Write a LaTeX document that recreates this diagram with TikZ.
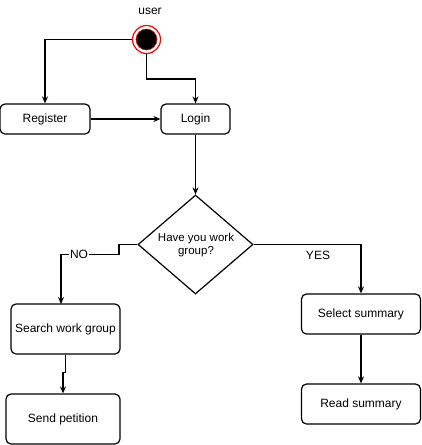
\documentclass[tikz,border=0pt]{standalone}
\usepackage{fontspec}
\setmainfont{Liberation Sans}
\usetikzlibrary{arrows.meta,shapes.geometric}
\begin{document}
\begin{tikzpicture}[x=1pt,y=-1pt,
  box/.style={draw,line width=1.2pt,rounded corners=5pt,inner sep=0pt,font=\fontsize{12}{13.5}\selectfont},
  conn/.style={draw,line width=1.2pt,-{Stealth[length=7pt,width=6pt]}},
  lbl/.style={font=\fontsize{12}{13.5}\selectfont,inner sep=1pt}]
\useasboundingbox (0,0) rectangle (421,445);
% start state
\node[circle,draw=red,fill=white,line width=1.2pt,minimum size=28pt,inner sep=0pt] (start) at (146.5,39.5) {};
\node[circle,draw=red,fill=black,line width=0.6pt,minimum size=21pt,inner sep=0pt] at (146.5,39.5) {};
\node[lbl] (user) at (150,11) {user};
% boxes
\node[box,minimum width=90pt,minimum height=30pt] (reg) at (45,119) {Register};
\node[box,minimum width=69pt,minimum height=30pt] (login) at (195.5,119) {Login};
\node[diamond,draw,line width=1.2pt,minimum width=115pt,minimum height=99pt,inner sep=0pt,aspect=1.16] (dec) at (195.5,244.5) {};
\node[lbl,align=center,font=\fontsize{11.5}{13}\selectfont] (dectext) at (196,245) {Have you work\\group?};
\node[box,minimum width=109pt,minimum height=50pt] (search) at (65.5,329) {Search work group};
\node[box,minimum width=114pt,minimum height=50pt] (send) at (63,419) {Send petition};
\node[box,minimum width=119pt,minimum height=40pt] (select) at (361,314) {Select summary};
\node[box,minimum width=119pt,minimum height=40pt] (read) at (361,404) {Read summary};
% connectors
\draw[conn] (start.west) -| (reg.north);
\draw[conn] (start.south) |- (195.5,79) -- (login.north);
\draw[conn] (reg.east) -- (login.west);
\draw[conn] (login.south) -- (dec.north);
\coordinate (nojog) at (119,254.5);
\draw[conn] (dec.west) -- (119,244.5) -- (nojog) -| (61,304) coordinate (noend);
\node[lbl,fill=white,inner sep=1pt] (no) at (79,254.5) {NO};
\draw[conn] (dec.east) -| (select.north);
\node[lbl] (yes) at (318,255) {YES};
\draw[conn] (search.south) -- (65.5,372.5) -- (63,372.5) -- (send.north);
\draw[conn] (select.south) -- (read.north);
\end{tikzpicture}
\end{document}
